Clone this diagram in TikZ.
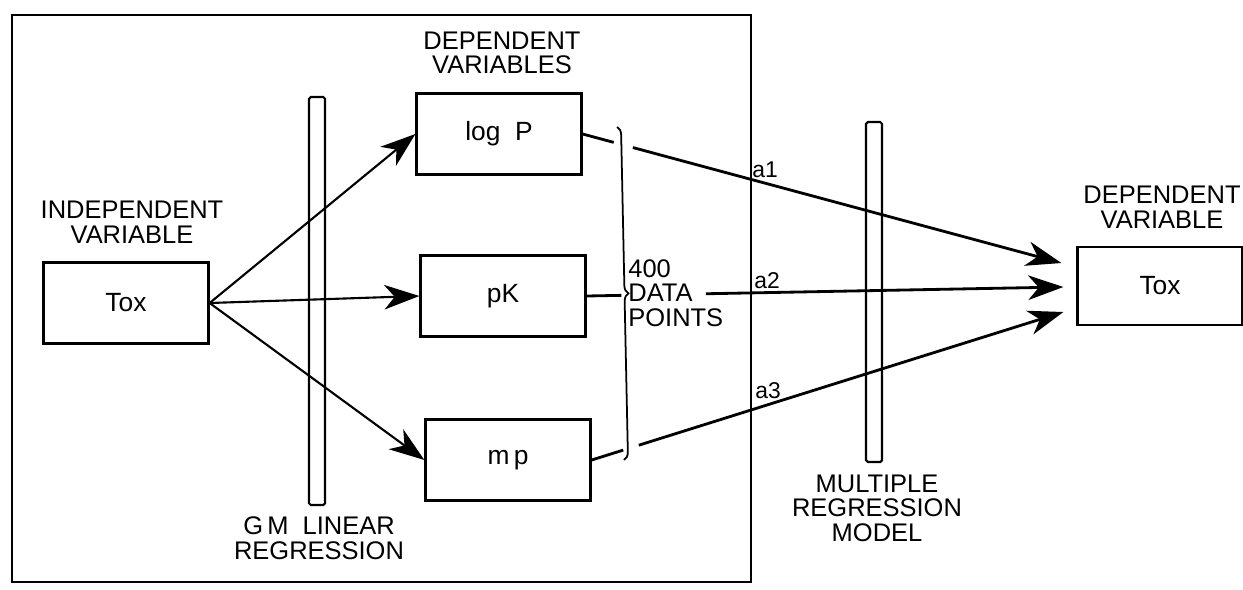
\documentclass[tikz,border=0pt]{standalone}
\usepackage{fontspec}
\setmainfont{Liberation Sans}
\usetikzlibrary{arrows.meta,calc,decorations.pathreplacing}

\begin{document}
\begin{tikzpicture}[x=0.02cm,y=-0.02cm,
    box/.style={draw,line width=1.3pt,minimum width=3.3cm,minimum height=1.62cm,font=\fontsize{15}{15}\selectfont},
    lbl/.style={align=center,font=\fontsize{14.5}{14}\selectfont},
    bar/.style={draw,line width=1.2pt,rounded corners=1pt},
    link/.style={line width=1.2pt,-{Stealth[length=20pt,width=14pt,inset=6pt]}},
    fit line/.style={line width=1.6pt},
    coef/.style={anchor=west,font=\fontsize{13}{13}\selectfont,inner sep=0pt}]
  \useasboundingbox (0,0) rectangle (1243,589);
  \draw[line width=1.2pt] (12,15) rectangle (751,582);
  % regression bars
  \draw[bar] (309,97) rectangle (325,505);
  \draw[bar] (866,122) rectangle (882,462);
  \node[lbl] (gm) at (319,538) {G\,M\ \ LINEAR\\REGRESSION};
  \node[lbl] (mr) at (877,508) {MULTIPLE\\REGRESSION\\MODEL};
  % variables
  \node[lbl] (indep) at (132,222) {INDEPENDENT\\VARIABLE};
  \node[lbl] (deps) at (502,53) {DEPENDENT\\VARIABLES};
  \node[lbl] (dep) at (1162,207) {DEPENDENT\\VARIABLE};
  \node[box] (toxl) at (126,303) {Tox};
  \node[box] (logp) at (499,134) {log\ \ P};
  \node[box] (pk) at (503,296) {pK};
  \node[box] (mp) at (508,460) {m\,p};
  \node[box,minimum height=1.56cm] (toxr) at (1160,286) {Tox};
  \draw[link] (toxl.east) -- (logp.west);
  \draw[link] (toxl.east) -- (pk.west);
  \draw[link] (toxl.east) -- (mp.west);
  % data points
  \draw[line width=1pt,decorate,decoration={brace,amplitude=1.6mm}] (617,127) -- (624,460);
  \node[lbl,align=left,anchor=west,inner sep=0pt] (data) at (628,293) {400\\DATA\\POINTS};
  \coordinate (t1) at ($(toxr.west)+(-15,-23)$);
  \coordinate (t2) at ($(toxr.west)+(-13,1)$);
  \coordinate (t3) at ($(toxr.west)+(-13,26)$);
  \draw[fit line] (logp.east) -- ($(logp.east)!0.065!(t1)$);
  \draw[fit line,link,line width=1.6pt] ($(logp.east)!0.105!(t1)$) -- (t1);
  \draw[fit line] (pk.east) -- ($(pk.east)!0.073!(t2)$);
  \draw[fit line,link,line width=1.6pt] ($(pk.east)!0.25!(t2)$) -- (t2);
  \draw[fit line] (mp.east) -- ($(mp.east)!0.067!(t3)$);
  \draw[fit line,link,line width=1.6pt] ($(mp.east)!0.1!(t3)$) -- (t3);
  \node[coef] (a1) at (752,170) {a1};
  \node[coef] (a2) at (754,281) {a2};
  \node[coef] (a3) at (755,391) {a3};
\end{tikzpicture}
\end{document}
